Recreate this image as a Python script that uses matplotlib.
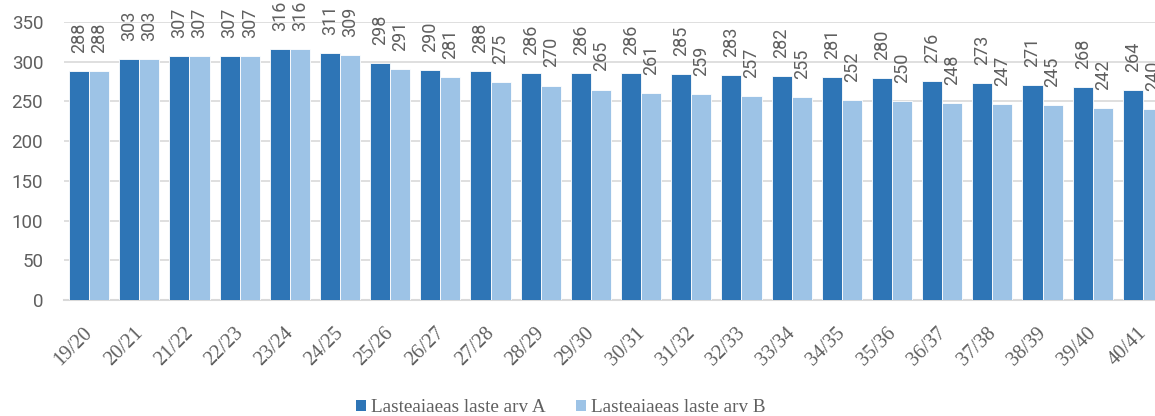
import numpy as np
import matplotlib
matplotlib.use('Agg')
import matplotlib.pyplot as plt
import matplotlib.transforms as mtransforms
from matplotlib.patches import Patch

# Data
years = ['19/20', '20/21', '21/22', '22/23', '23/24', '24/25', '25/26', '26/27',
         '27/28', '28/29', '29/30', '30/31', '31/32', '32/33', '33/34', '34/35',
         '35/36', '36/37', '37/38', '38/39', '39/40', '40/41']
series_a = [288, 303, 307, 307, 316, 311, 298, 290, 288, 286, 286, 286, 285, 283,
            282, 281, 280, 276, 273, 271, 268, 264]
series_b = [288, 303, 307, 307, 316, 309, 291, 281, 275, 270, 265, 261, 259, 257,
            255, 252, 250, 248, 247, 245, 242, 240]
labels = ['Lasteaiaeas laste arv A', 'Lasteaiaeas laste arv B']

col_a = '#2E75B6'
col_b = '#9DC3E6'
txt = '#5F5F5F'
num_font = {'family': 'Roboto', 'weight': 'normal'}

fig = plt.figure(figsize=(11.55, 4.16), dpi=100)
ax = fig.add_axes([64 / 1155, 116 / 416, 1104 / 1155, 278 / 416])

x = np.arange(len(years))
w = 0.4
bars_a = ax.bar(x - w / 2, series_a, w, color=col_a, edgecolor='white', linewidth=0.6, zorder=3)
bars_b = ax.bar(x + w / 2, series_b, w, color=col_b, edgecolor='white', linewidth=0.6, zorder=3)

# value labels, rotated like the original (text starts a fixed gap above the bar)
for bars in [bars_a, bars_b]:
    for b in bars:
        h = b.get_height()
        ax.annotate(f'{int(h)}', (b.get_x() + b.get_width() / 2, h),
                    xytext=(0, 13), textcoords='offset points',
                    ha='left', va='center', rotation=90, rotation_mode='anchor',
                    fontsize=13, color=txt, annotation_clip=False, **num_font)

ax.set_xlim(-0.5, len(years) - 0.5)
ax.set_ylim(0, 350)
ax.set_yticks(range(0, 351, 50))
ax.yaxis.grid(True, color='#D9D9D9', linewidth=1.2, zorder=0)
ax.set_axisbelow(True)
for s in ['top', 'right', 'left']:
    ax.spines[s].set_visible(False)
ax.spines['bottom'].set_color('#D9D9D9')
ax.spines['bottom'].set_linewidth(1.5)
ax.tick_params(length=0)
ax.tick_params(axis='y', pad=15)
ax.set_yticklabels([str(v) for v in range(0, 351, 50)], fontsize=13.5, color=txt, **num_font)
ax.set_xticks(x)
ax.set_xticklabels(years, rotation=45, ha='right', rotation_mode='anchor',
                   fontsize=14.5, color=txt, family='Liberation Serif')
ax.tick_params(axis='x', pad=17)
shift = mtransforms.ScaledTranslation(-6 / 100, 0, fig.dpi_scale_trans)
for lab in ax.get_xticklabels():
    lab.set_transform(lab.get_transform() + shift)

handles = [Patch(facecolor=col_a), Patch(facecolor=col_b)]
fig.legend(handles, labels, loc='center', bbox_to_anchor=(561 / 1155, 8 / 416),
           ncol=2, frameon=False, handlelength=0.52, handleheight=0.52,
           handletextpad=0.26, columnspacing=1.6,
           prop={'family': 'Liberation Serif', 'size': 13.8}, labelcolor=txt)

fig.savefig('out.png', dpi=100, facecolor='white')
